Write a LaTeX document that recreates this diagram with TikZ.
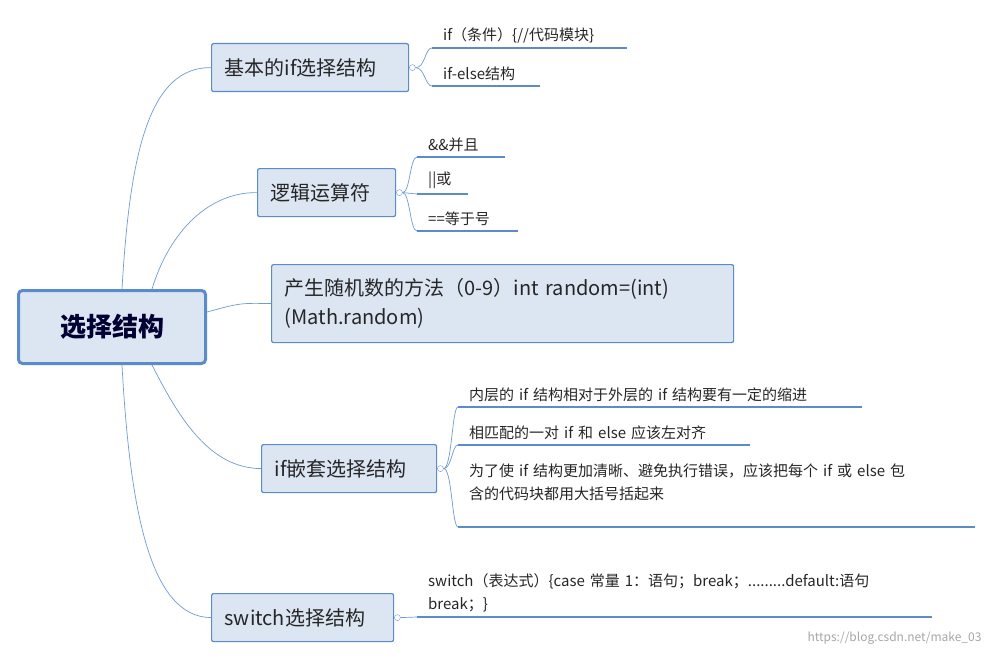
\documentclass[tikz,border=0pt]{standalone}
\usepackage{fontspec}
\setmainfont{Noto Sans CJK SC}
\usetikzlibrary{positioning}
\definecolor{boxfill}{HTML}{DCE6F2}
\definecolor{boxline}{HTML}{5B8BC9}
\definecolor{edge}{HTML}{6F9AD3}
\tikzset{
  topic/.style={draw=boxline,fill=boxfill,line width=1.2pt,rounded corners=2pt,anchor=north west,inner xsep=13pt,inner ysep=0pt,align=left,font=\fontsize{20}{29}\selectfont,text=black!85},
  leaf/.style={anchor=south west,inner xsep=11pt,inner ysep=5pt,align=left,font=\fontsize{15}{23}\selectfont,text=black!85},
  uline/.style={draw=boxline,line width=1.4pt},
  knob/.style={circle,draw=edge,fill=white,inner sep=0pt,minimum size=6pt},
  link/.style={draw=edge,line width=0.7pt}
}
% leaf with underline: name, x, y(line), width, text
\newcommand{\leafline}[5]{%
  \node[leaf,minimum width=#4pt,text width=#4pt-22pt] (#1) at (#2,#3) {#5};
  \draw[uline] (#1.south west) -- (#1.south east);}
\begin{document}
\begin{tikzpicture}[x=1pt,y=-1pt]
\useasboundingbox (0,0) rectangle (993,658);
% centre
\node[draw=boxline,fill=boxfill,line width=3pt,rounded corners=4pt,minimum width=187pt,minimum height=73pt,font=\fontsize{26}{30}\selectfont\bfseries,text=black!80!blue] (root) at (112,327) {选择结构};
% main branches
\node[topic,text width=171pt,minimum height=48pt] (b1) at (211,43) {基本的if选择结构};
\node[topic,text width=112pt,minimum height=48pt] (b2) at (257,168) {逻辑运算符};
\node[topic,text width=436pt,minimum height=78pt] (b3) at (271,264) {产生随机数的方法（0-9）int random=(int)\\(Math.random)};
\node[topic,text width=149pt,minimum height=48pt] (b4) at (261,444) {if嵌套选择结构};
\node[topic,text width=156pt,minimum height=48pt] (b5) at (211,593) {switch选择结构};
\draw[link] (root.north) ++(10,0) .. controls (130,150) and (150,67) .. (b1.west);
\draw[link] (root.north) ++(40,0) .. controls (170,230) and (210,192) .. (b2.west);
\draw[link] (root.east) ++(0,-15) .. controls (240,303) .. (b3.west);
\draw[link] (root.south) ++(40,0) .. controls (180,420) and (210,468) .. (b4.west);
\draw[link] (root.south) ++(10,0) .. controls (130,510) and (150,617) .. (b5.west);
% knobs
\node[knob,right=0pt of b1] (k1) {};
\node[knob,right=0pt of b2] (k2) {};
\node[knob,right=0pt of b4] (k4) {};
\node[knob,right=0pt of b5] (k5) {};
% leaves
\leafline{l11}{432}{48}{195}{if（条件）{\{}//代码模块\}}
\leafline{l12}{432}{86}{108}{if-else结构}
\leafline{l21}{417}{157}{88}{\&\&并且}
\leafline{l22}{417}{194}{51}{||或}
\leafline{l23}{417}{231}{101}{==等于号}
\leafline{l41}{458}{407}{404}{内层的 if 结构相对于外层的 if 结构要有一定的缩进}
\leafline{l42}{458}{445}{292}{相匹配的一对 if 和 else 应该左对齐}
\node[leaf,text width=495pt,inner ysep=26pt] (l43) at (458,527) {为了使 if 结构更加清晰、避免执行错误，应该把每个 if 或 else 包\\含的代码块都用大括号括起来};
\draw[uline] (l43.south west) -- (l43.south east);
\node[leaf,text width=493pt] (l51) at (417,617) {switch（表达式）{\{}case 常量 1：语句；break；.........default:语句\\break；\}};
\draw[uline] (l51.south west) -- (l51.south east);
% leaf connectors
\draw[link] (k1.east) .. controls (425,68) and (425,48) .. (l11.south west);
\draw[link] (k1.east) .. controls (425,68) and (425,86) .. (l12.south west);
\draw[link] (k2.east) .. controls (410,193) and (410,157) .. (l21.south west);
\draw[link] (k2.east) -- (l22.south west);
\draw[link] (k2.east) .. controls (410,193) and (410,231) .. (l23.south west);
\draw[link] (k4.east) .. controls (452,468) and (452,407) .. (l41.south west);
\draw[link] (k4.east) .. controls (452,468) and (452,445) .. (l42.south west);
\draw[link] (k4.east) .. controls (452,468) and (452,527) .. (l43.south west);
\draw[link] (k5.east) -- (l51.south west);
% watermark
\node[anchor=east,text=black!35,font=\fontsize{12}{14}\selectfont] (mark) at (985,638) {https://blog.csdn.net/make\_03};
\end{tikzpicture}
\end{document}
